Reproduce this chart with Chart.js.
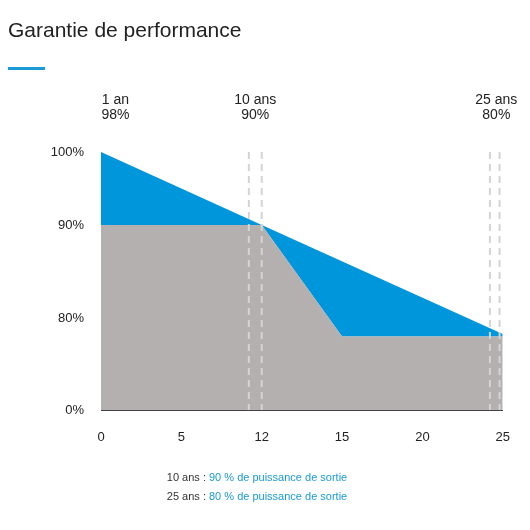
<!DOCTYPE html>
<html><head><meta charset="utf-8">
<script src="https://cdn.jsdelivr.net/npm/chart.js@4"></script>
<style>
body{margin:0;width:530px;height:530px;position:relative;font-family:"Liberation Sans",Arial,sans-serif;background:#fff}
#t{position:absolute;left:8px;top:18px;font-size:21px;color:#222}
#u{position:absolute;left:8px;top:67px;width:37px;height:3px;background:#1a9ad6}
.n{position:absolute;left:0;width:530px;text-align:center;font-size:11px;color:#333}
.n span{color:#1a9ad6}
canvas{position:absolute;left:0;top:0}
</style></head><body>
<canvas id="c" width="530" height="530"></canvas>
<div id="t">Garantie de performance</div><div id="u"></div>
<div class="n" style="top:471px;left:-8px">10 ans : <span>90 % de puissance de sortie</span></div>
<div class="n" style="top:490px;left:-8px">25 ans : <span>80 % de puissance de sortie</span></div>
<script>
// Données
const years = [0, 10, 15, 25];
const guaranteed = [90, 90, 64, 64];
const topYears = [0, 10, 25];
const topValues = [100, 90, 66];
const xTicks = [0, 5, 10, 15, 20, 25];
const xLabels = ['0', '5', '12', '15', '20', '25'];
const yTicks = [0, 80, 90, 100];
const markers = [
    { x: 0.9, lines: ['1 an', '98%'], dashes: [] },
    { x: 9.6, lines: ['10 ans', '90%'], dashes: [9.2, 10] },
    { x: 24.6, lines: ['25 ans', '80%'], dashes: [24.2, 24.8] }
];

// axe vertical non linéaire comme sur l'original
const anchors = [[0, 0], [80, 92], [90, 185], [100, 258]];
function toAxis(p) {
    for (let i = 1; i < anchors.length; i++) {
        const a = anchors[i - 1], b = anchors[i];
        if (p <= b[0]) return a[1] + (p - a[0]) / (b[0] - a[0]) * (b[1] - a[1]);
    }
    return anchors[anchors.length - 1][1];
}
function fromAxis(v) {
    const a = anchors.find(x => Math.abs(x[1] - v) < 0.5);
    return a ? a[0] : '';
}

const overlay = {
    id: 'overlay',
    afterDatasetsDraw(chart) {
        const ctx = chart.ctx, xs = chart.scales.x, area = chart.chartArea;
        ctx.save();
        ctx.strokeStyle = '#d4d4d4';
        ctx.lineWidth = 2;
        ctx.setLineDash([7, 5]);
        markers.forEach(m => m.dashes.forEach(d => {
            const px = xs.getPixelForValue(d);
            ctx.beginPath(); ctx.moveTo(px, area.top); ctx.lineTo(px, area.bottom); ctx.stroke();
        }));
        ctx.setLineDash([]);
        ctx.fillStyle = '#222';
        ctx.font = '14px "Liberation Sans", Arial';
        ctx.textAlign = 'center';
        markers.forEach(m => {
            const px = xs.getPixelForValue(m.x);
            ctx.fillText(m.lines[0], px, 104);
            ctx.fillText(m.lines[1], px, 119);
        });
        ctx.restore();
    }
};

new Chart(document.getElementById('c'), {
    type: 'line',
    data: {
        datasets: [{
            data: years.map((x, i) => ({ x: x, y: toAxis(guaranteed[i]) })),
            backgroundColor: '#b4b0af', borderWidth: 0, pointRadius: 0, fill: 'origin', tension: 0
        }, {
            data: topYears.map((x, i) => ({ x: x, y: toAxis(topValues[i]) })),
            backgroundColor: '#0096db', borderWidth: 0, pointRadius: 0, fill: 0, tension: 0
        }]
    },
    options: {
        responsive: false,
        animation: false,
        layout: { padding: { top: 152, right: 27, left: 0, bottom: 0 } },
        plugins: { legend: { display: false }, tooltip: { enabled: false } },
        scales: {
            x: {
                type: 'linear', min: 0, max: 25,
                grid: { display: false, drawTicks: false },
                border: { color: '#444', width: 1 },
                afterBuildTicks: s => { s.ticks = xTicks.map(v => ({ value: v })); },
                afterFit: s => { s.height = 120; },
                ticks: { padding: 20, color: '#222', font: { size: 13, family: '"Liberation Sans", Arial' },
                    callback: (v) => xLabels[xTicks.indexOf(v)] }
            },
            y: {
                min: 0, max: 258,
                grid: { display: false, drawTicks: false },
                border: { display: false },
                afterBuildTicks: s => { s.ticks = yTicks.map(v => ({ value: toAxis(v) })); },
                afterFit: s => { s.width = 101; },
                ticks: { padding: 17, color: '#222', font: { size: 13, family: '"Liberation Sans", Arial' },
                    callback: v => fromAxis(v) + '%' }
            }
        }
    },
    plugins: [overlay]
});
</script>
</body></html>
